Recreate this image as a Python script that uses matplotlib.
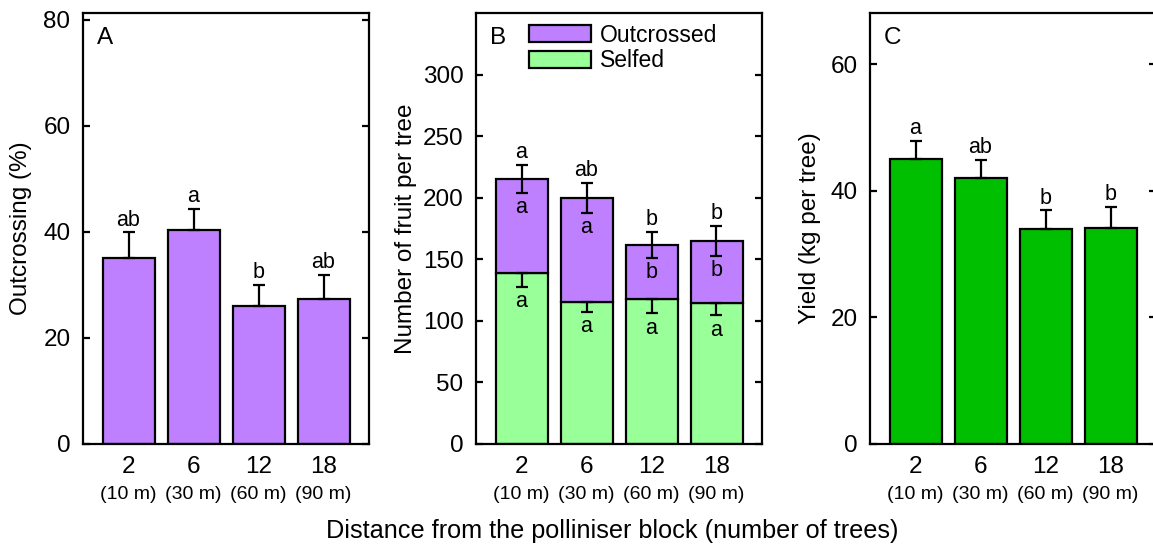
import numpy as np
import matplotlib
matplotlib.use("Agg")
import matplotlib.pyplot as plt
from matplotlib.patches import Patch

plt.rcParams['font.family'] = ['Liberation Sans', 'DejaVu Sans']

# data
trees = ['2', '6', '12', '18']
metres = ['(10 m)', '(30 m)', '(60 m)', '(90 m)']

outcross_pct = [35.1, 40.3, 26.0, 27.4]
outcross_pct_se = [4.8, 4.0, 4.0, 4.5]
outcross_pct_lett = ['ab', 'a', 'b', 'ab']

selfed = [139.0, 115.5, 117.8, 114.4]
selfed_se = [11.3, 8.5, 11.8, 10.0]
selfed_lett = ['a', 'a', 'a', 'a']
outcrossed = [76.1, 84.3, 43.8, 50.6]
outcrossed_se = [11.5, 12.2, 10.5, 12.2]
outcrossed_lett = ['a', 'a', 'b', 'b']
total_lett = ['a', 'ab', 'b', 'b']

yld = [45.0, 42.0, 34.0, 34.2]
yld_se = [2.9, 2.9, 2.9, 3.3]
yld_lett = ['a', 'ab', 'b', 'b']

purple = '#BF80FF'
lgreen = '#99FF99'
dgreen = '#00BF00'

W, H = 1153, 546
fig = plt.figure(figsize=(W / 100, H / 100), dpi=100)

bot = 1 - 444 / H
hgt = (444 - 13) / H
wid = 286 / W
axA = fig.add_axes([83 / W, bot, wid, hgt])
axB = fig.add_axes([476 / W, bot, wid, hgt])
axC = fig.add_axes([870 / W, bot, wid, hgt])

x = np.arange(len(trees))
bar_kw = dict(width=0.8, edgecolor='black', linewidth=1.6, zorder=2)
err_kw = dict(fmt='none', ecolor='black', elinewidth=1.6, capsize=4, capthick=1.6, zorder=3)
lett_size = 15.5


def letters(ax, xs, ys, labs, dy):
    for xi, yi, lab in zip(xs, ys, labs):
        ax.annotate(lab, (xi, yi), xytext=(0, dy), textcoords='offset points',
                    ha='center', va='baseline', fontsize=lett_size)


def style(ax, ylim, yticks, ylabel, lx, panel):
    ax.set_xlim(-0.7, 3.7)
    ax.set_ylim(*ylim)
    ax.set_yticks(yticks)
    ax.set_xticks(x, trees)
    ax.tick_params(axis='x', length=0, pad=8.5, labelsize=17.5)
    ax.tick_params(axis='y', direction='in', length=5, width=1.6, pad=9, labelsize=17.5)
    for s in ax.spines.values():
        s.set_linewidth(1.6)
    sec = ax.secondary_yaxis('right')
    sec.set_yticks(yticks)
    sec.tick_params(direction='in', length=5, width=1.6, labelright=False)
    sec.spines['right'].set_visible(False)
    for xi, m in zip(x, metres):
        ax.text(xi, -0.128, m, transform=ax.get_xaxis_transform(),
                ha='center', va='baseline', fontsize=14)
    ax.set_ylabel(ylabel, fontsize=17.5)
    ax.yaxis.set_label_coords(lx, 0.5)
    ax.text(0.048, 0.927, panel, transform=ax.transAxes, fontsize=17.5,
            ha='left', va='baseline')


# A
axA.bar(x, outcross_pct, color=purple, **bar_kw)
axA.errorbar(x, outcross_pct, yerr=[np.zeros(4), outcross_pct_se], **err_kw)
letters(axA, x, np.add(outcross_pct, outcross_pct_se), outcross_pct_lett, 5)
style(axA, (0, 81.3), [0, 20, 40, 60, 80], 'Outcrossing (%)', -0.18, 'A')

# B
tot = np.add(selfed, outcrossed)
axB.bar(x, selfed, color=lgreen, **bar_kw)
axB.bar(x, outcrossed, bottom=selfed, color=purple, **bar_kw)
axB.errorbar(x, selfed, yerr=[selfed_se, np.zeros(4)], **err_kw)
axB.errorbar(x, tot, yerr=outcrossed_se, **err_kw)
letters(axB, x, tot + np.array(outcrossed_se), total_lett, 5)
letters(axB, x, tot - np.array(outcrossed_se), outcrossed_lett, -14.5)
letters(axB, x, np.subtract(selfed, selfed_se), selfed_lett, -14.5)
style(axB, (0, 350), [0, 50, 100, 150, 200, 250, 300], 'Number of fruit per tree', -0.205, 'B')
axB.legend(handles=[Patch(facecolor=purple, edgecolor='black', linewidth=1.6, label='Outcrossed'),
                    Patch(facecolor=lgreen, edgecolor='black', linewidth=1.6, label='Selfed')],
           loc='upper left', bbox_to_anchor=(0.185, 0.975), frameon=False, fontsize=16.5,
           borderpad=0, borderaxespad=0, handlelength=2.7, handleheight=0.76,
           handletextpad=0.4, labelspacing=0.1)

# C
axC.bar(x, yld, color=dgreen, **bar_kw)
axC.errorbar(x, yld, yerr=[np.zeros(4), yld_se], **err_kw)
letters(axC, x, np.add(yld, yld_se), yld_lett, 5)
style(axC, (0, 68.1), [0, 20, 40, 60], 'Yield (kg per tree)', -0.17, 'C')

fig.text(612 / W, 1 - 538 / H, 'Distance from the polliniser block (number of trees)',
         ha='center', va='baseline', fontsize=18.2)

fig.savefig('out.png', dpi=100)
